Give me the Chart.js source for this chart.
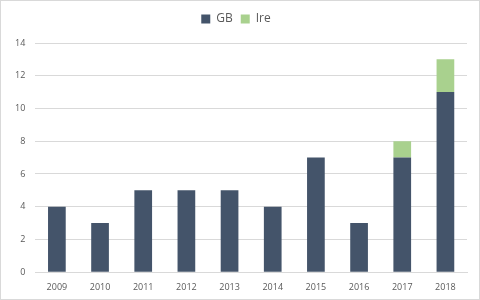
<!DOCTYPE html>
<html>
<head>
<meta charset="utf-8">
<script src="https://cdn.jsdelivr.net/npm/chart.js@4"></script>
<style>
    html, body { margin: 0; padding: 0; background: #fff; }
    #wrap { position: absolute; left: 0; top: 0; width: 478px; height: 298px; border: 1px solid #d9d9d9; }
</style>
</head>
<body>
<div id="wrap"><canvas id="chart" width="478" height="298"></canvas></div>
<script>
const years = ['2009', '2010', '2011', '2012', '2013', '2014', '2015', '2016', '2017', '2018'];
const gbValues = [4, 3, 5, 5, 5, 4, 7, 3, 7, 11];
const ireValues = [0, 0, 0, 0, 0, 0, 0, 0, 1, 2];

const ctx = document.getElementById('chart').getContext('2d');

// extra room under the legend
const legendGap = {
    id: 'legendGap',
    beforeInit(chart) {
        const origFit = chart.legend.fit;
        chart.legend.fit = function () {
            origFit.bind(chart.legend)();
            this.height += 8;
        };
    },
};

new Chart(ctx, {
    type: 'bar',
    data: {
        labels: years,
        datasets: [
            {
                label: 'GB',
                data: gbValues,
                backgroundColor: '#44546A',
                barPercentage: 0.41,
                categoryPercentage: 1,
            },
            {
                label: 'Ire',
                data: ireValues,
                backgroundColor: '#A9D18E',
                barPercentage: 0.41,
                categoryPercentage: 1,
            },
        ],
    },
    options: {
        responsive: false,
        animation: false,
        plugins: {
            legend: {
                position: 'top',
                labels: {
                    boxWidth: 9,
                    boxHeight: 9,
                    padding: 8,
                    color: '#595959',
                    font: { family: 'Open Sans, sans-serif', size: 12 },
                },
            },
            tooltip: { enabled: false },
        },
        scales: {
            x: {
                stacked: true,
                grid: { display: false },
                border: { display: true, color: '#d9d9d9' },
                ticks: {
                    color: '#595959',
                    font: { family: 'Open Sans, sans-serif', size: 9 },
                    padding: 2,
                },
            },
            y: {
                stacked: true,
                min: 0,
                max: 14,
                ticks: {
                    stepSize: 2,
                    color: '#595959',
                    font: { family: 'Open Sans, sans-serif', size: 9 },
                    padding: 10,
                },
                grid: { color: '#d9d9d9', drawTicks: false },
                border: { display: false },
            },
        },
        layout: {
            padding: { left: 4, right: 12, top: 4, bottom: 4 },
        },
    },
    plugins: [legendGap],
});
</script>
</body>
</html>
